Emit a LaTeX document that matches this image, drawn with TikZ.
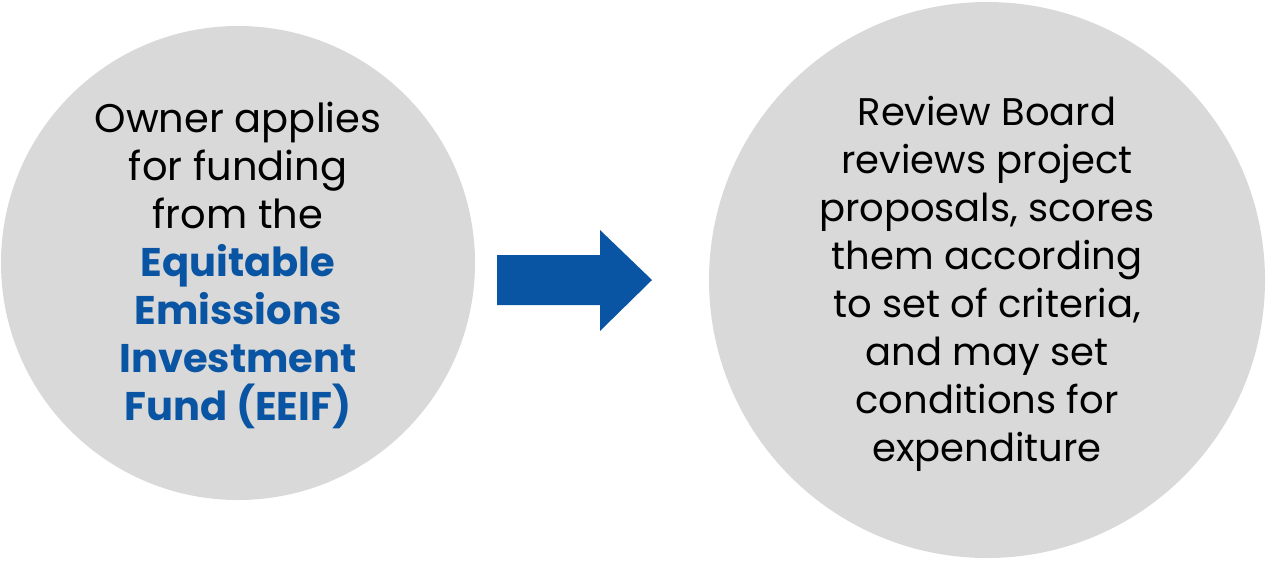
\documentclass[tikz,border=0pt]{standalone}
\usepackage{fontspec}
\setmainfont{Poppins}
\definecolor{discgray}{HTML}{D9D9D9}
\definecolor{fundblue}{HTML}{0A55A3}
\begin{document}
\begin{tikzpicture}[x=1pt,y=-1pt,
  stagetext/.style={align=center,text=black,inner sep=0pt}]
\useasboundingbox (0,0) rectangle (1268,560);
% the two stages
\fill[discgray] (238,263) circle[radius=237];
\fill[discgray] (987,280) circle[radius=278];
\node[stagetext,font=\fontsize{40}{48}\selectfont] (apply) at (238,265) {Owner applies\\for funding\\from the\\
  \textcolor{fundblue}{\bfseries Equitable}\\\textcolor{fundblue}{\bfseries Emissions}\\
  \textcolor{fundblue}{\bfseries Investment}\\\textcolor{fundblue}{\bfseries Fund (EEIF)}};
\node[stagetext,font=\fontsize{38.5}{48}\selectfont] (review) at (987,284) {Review Board\\reviews project\\proposals, scores\\them according\\to set of criteria,\\and may set\\conditions for\\expenditure};
% block arrow between the stages
\fill[fundblue] (497,255) -- (600,255) -- (600,230) -- (652,280) -- (600,331) -- (600,305) -- (497,305) -- cycle;
\end{tikzpicture}
\end{document}
